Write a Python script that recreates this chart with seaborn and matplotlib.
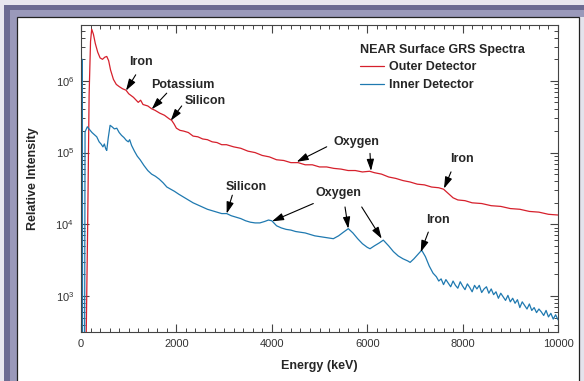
import numpy as np
import pandas as pd
import matplotlib
matplotlib.use("Agg")
import matplotlib.pyplot as plt
from matplotlib.patches import Rectangle
from matplotlib.ticker import MultipleLocator, LogLocator
import seaborn as sns

# values (energy in keV, log10 of relative intensity)
outer_energy = [0, 100, 140, 170, 200, 224, 260, 300, 350, 400, 450, 500, 540, 580, 620,
                680, 740, 800, 870, 943, 1000, 1100, 1200, 1250, 1300, 1400, 1482, 1550,
                1650, 1750, 1850, 1900, 1950, 2000, 2075, 2150, 2250, 2350, 2450, 2550,
                2650, 2750, 2850, 2950, 3050, 3200, 3350, 3500, 3650, 3800, 3950, 4100,
                4250, 4400, 4550, 4700, 4850, 5000, 5150, 5300, 5450, 5600, 5750, 5900,
                6050, 6150, 6300, 6450, 6600, 6750, 6900, 7050, 7200, 7350, 7500, 7600,
                7700, 7800, 7900, 8050, 8200, 8400, 8600, 8800, 9000, 9200, 9400, 9600,
                9800, 10000]
outer_log = [2.0, 2.0, 4.0, 5.8, 6.55, 6.72, 6.65, 6.52, 6.40, 6.32, 6.30, 6.33, 6.34, 6.28,
             6.15, 6.02, 5.95, 5.92, 5.89, 5.87, 5.82, 5.77, 5.70, 5.73, 5.67, 5.65, 5.61,
             5.59, 5.55, 5.52, 5.47, 5.45, 5.40, 5.34, 5.31, 5.30, 5.28, 5.23, 5.22, 5.19,
             5.18, 5.15, 5.14, 5.11, 5.11, 5.08, 5.06, 5.02, 5.00, 4.96, 4.94, 4.90, 4.89,
             4.86, 4.86, 4.83, 4.83, 4.80, 4.80, 4.78, 4.77, 4.75, 4.75, 4.73, 4.74, 4.72,
             4.70, 4.66, 4.64, 4.61, 4.59, 4.56, 4.55, 4.52, 4.51, 4.49, 4.43, 4.37, 4.34,
             4.33, 4.30, 4.29, 4.26, 4.25, 4.22, 4.21, 4.18, 4.17, 4.14, 4.13]

inner_energy = [0, 15, 20, 28, 33, 75, 85, 133, 180, 230, 280, 330, 380, 420, 460, 490,
                520, 540, 570, 610, 650, 700, 750, 800, 850, 900, 950, 992, 1020, 1060,
                1120, 1180, 1240, 1320, 1400, 1480, 1560, 1640, 1720, 1800, 1880, 1960,
                2050, 2150, 2250, 2350, 2450, 2550, 2650, 2750, 2850, 2950, 3054, 3150,
                3250, 3350, 3450, 3550, 3650, 3750, 3850, 3930, 4000, 4100, 4200, 4300,
                4400, 4500, 4600, 4700, 4800, 4900, 5000, 5100, 5200, 5290, 5400, 5500,
                5604, 5700, 5800, 5900, 6000, 6059, 6150, 6250, 6338, 6450, 6550, 6650,
                6750, 6850, 6900, 6980, 7060, 7142, 7220, 7300, 7380, 7450, 7500, 7550,
                7600, 7650, 7700, 7750, 7800, 7850, 7900, 7950, 8000, 8050, 8100, 8150,
                8200, 8250, 8300, 8350, 8400, 8450, 8500, 8550, 8600, 8650, 8700, 8750,
                8800, 8850, 8900, 8950, 9000, 9050, 9100, 9150, 9200, 9250, 9300, 9350,
                9400, 9450, 9500, 9550, 9600, 9650, 9700, 9750, 9800, 9850, 9900, 9950,
                10000]
inner_log = [2.0, 2.0, 6.3, 6.3, 2.0, 2.0, 5.29, 5.36, 5.32, 5.28, 5.25, 5.22, 5.15, 5.12,
             5.08, 5.12, 5.05, 5.03, 5.20, 5.38, 5.36, 5.33, 5.34, 5.28, 5.24, 5.21, 5.17,
             5.15, 5.18, 5.10, 5.02, 4.95, 4.90, 4.82, 4.75, 4.70, 4.67, 4.63, 4.58, 4.52,
             4.49, 4.46, 4.42, 4.38, 4.34, 4.30, 4.27, 4.24, 4.21, 4.19, 4.17, 4.15, 4.15,
             4.12, 4.10, 4.08, 4.05, 4.03, 4.02, 4.02, 4.04, 4.06, 4.05, 3.98, 3.95, 3.93,
             3.92, 3.90, 3.89, 3.88, 3.86, 3.84, 3.83, 3.82, 3.81, 3.80, 3.84, 3.89, 3.94,
             3.88, 3.80, 3.73, 3.68, 3.66, 3.70, 3.74, 3.78, 3.70, 3.62, 3.56, 3.52, 3.49,
             3.47, 3.52, 3.58, 3.64, 3.55, 3.42, 3.32, 3.27, 3.21, 3.24, 3.16, 3.23, 3.18,
             3.13, 3.21, 3.15, 3.11, 3.20, 3.14, 3.09, 3.17, 3.12, 3.06, 3.15, 3.10, 3.15,
             3.05, 3.10, 3.13, 3.04, 3.10, 3.02, 3.06, 2.97, 3.04, 2.99, 2.94, 3.01, 2.92,
             2.97, 2.90, 2.95, 2.84, 2.92, 2.87, 2.82, 2.89, 2.80, 2.84, 2.77, 2.82, 2.78,
             2.73, 2.80, 2.71, 2.76, 2.68, 2.74, 2.67]

# (label, text position, [(arrow tail, arrow head), ...]) in keV / log10 intensity
outer_notes = [
    ("Iron", (1258, 6.266), [((1147, 6.084), (943, 5.864))]),
    ("Potassium", (2138, 5.944), [((1797, 5.828), (1482, 5.604))]),
    ("Silicon", (2600, 5.72), [((2111, 5.65), (1881, 5.445))]),
    ("Oxygen", (5776, 5.151), [((5151, 5.081), (4522, 4.871)),
                               ((6059, 4.989), (6080, 4.745))]),
    ("Iron", (7987, 4.905), [((7757, 4.731), (7610, 4.499))]),
]
inner_notes = [
    ("Silicon", (3459, 4.517), [((3172, 4.406), (3054, 4.15))]),
    ("Oxygen", (5398, 4.434), [((4870, 4.29), (4004, 4.042)),
                               ((5535, 4.242), (5604, 3.94)),
                               ((5885, 4.242), (6304, 3.80))]),
    ("Iron", (7474, 4.056), [((7281, 3.892), (7122, 3.613))]),
]

RED = "#d6202c"
BLUE = "#1f79b0"

sns.set_style("white")
plt.rcParams["font.family"] = ["Liberation Sans", "DejaVu Sans"]

W, H = 584, 381
fig = plt.figure(figsize=(W / 100, H / 100), dpi=100)
fig.patch.set_facecolor("#e8e7ef")

def px_rect(x0, y0, x1, y1, **kw):
    # rectangle given in pixel coords from the top-left corner
    r = Rectangle((x0 / W, 1 - y1 / H), (x1 - x0) / W, (y1 - y0) / H,
                  transform=fig.transFigure, zorder=-10, **kw)
    fig.add_artist(r)

px_rect(4, 5, 590, 390, facecolor="#6c6b92", edgecolor="none")
px_rect(10, 10, 590, 390, facecolor="#9a99ba", edgecolor="none")
px_rect(579, 17, 590, 390, facecolor="#e4e3ec", edgecolor="none")
px_rect(17, 17, 579, 390, facecolor="white", edgecolor="#222222", linewidth=0.9)

ax = fig.add_axes([81 / W, 1 - 332 / H, (558 - 81) / W, (332 - 25) / H])
ax.set_facecolor("white")

outer = pd.DataFrame({"energy": outer_energy, "intensity": np.power(10.0, outer_log)})
inner = pd.DataFrame({"energy": inner_energy, "intensity": np.power(10.0, inner_log)})

sns.lineplot(data=outer, x="energy", y="intensity", ax=ax, color=RED, lw=0.9,
             estimator=None, sort=False, label="Outer Detector")
sns.lineplot(data=inner, x="energy", y="intensity", ax=ax, color=BLUE, lw=0.9,
             estimator=None, sort=False, label="Inner Detector")

ax.set_yscale("log")
ax.set_xlim(0, 10000)
ax.set_ylim(316, 6.0e6)

ax.xaxis.set_major_locator(MultipleLocator(2000))
ax.xaxis.set_minor_locator(MultipleLocator(200))
ax.yaxis.set_major_locator(LogLocator(base=10))
ax.yaxis.set_minor_locator(LogLocator(base=10, subs=np.arange(2, 10)))
ax.tick_params(which="both", direction="in", top=True, right=True, bottom=True, left=True,
               colors="#444444", labelsize=8, labelcolor="#333333")
ax.tick_params(which="major", length=6, width=0.8)
ax.tick_params(which="minor", length=3, width=0.7)
ax.tick_params(axis="x", pad=5)
ax.tick_params(axis="y", pad=5)
for s in ax.spines.values():
    s.set_color("#444444")
    s.set_linewidth(0.8)

ax.set_xlabel("Energy (keV)", fontsize=9, fontweight="bold", labelpad=8)
ax.set_ylabel("Relative Intensity", fontsize=9, fontweight="bold", labelpad=12)

leg = ax.legend(title="NEAR Surface GRS Spectra", frameon=False, loc="upper left",
                bbox_to_anchor=(0.574, 0.955), fontsize=9, alignment="left",
                handlelength=1.9, handletextpad=0.45, borderaxespad=0, labelspacing=0.45)
leg.get_title().set_fontweight("bold")
leg.get_title().set_fontsize(9)
for t in leg.get_texts():
    t.set_fontweight("bold")

arrow_kw = dict(arrowstyle="-|>,head_length=0.7,head_width=0.22", color="black",
                lw=0.8, mutation_scale=10, shrinkA=0, shrinkB=0)
for label, pos, arrows in outer_notes + inner_notes:
    ax.text(pos[0], 10 ** pos[1], label, fontsize=9, fontweight="bold",
            ha="center", va="center")
    for tail, head in arrows:
        ax.annotate("", xy=(head[0], 10 ** head[1]), xytext=(tail[0], 10 ** tail[1]),
                    arrowprops=arrow_kw)

fig.savefig("out.png", dpi=100, facecolor=fig.get_facecolor())
